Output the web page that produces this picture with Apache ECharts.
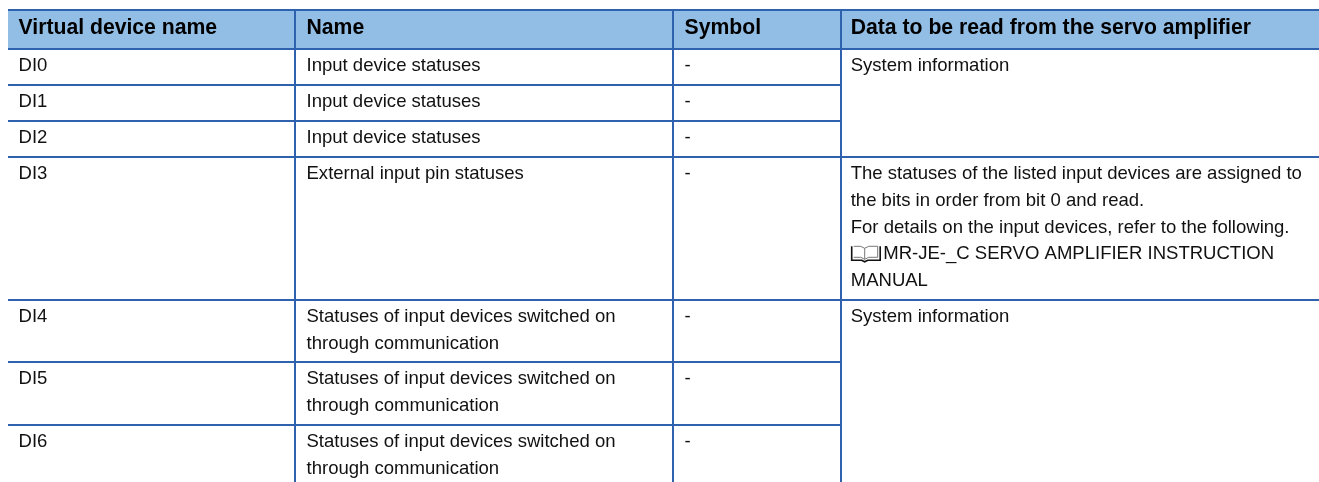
<!DOCTYPE html>
<html><head><meta charset="utf-8">
<style>html,body{margin:0;padding:0;background:#fff}#c{width:1319px;height:482px}</style>
<script src="https://cdn.jsdelivr.net/npm/echarts@6/dist/echarts.min.js"></script>
</head><body><div id="c"></div>
<script>
const columnHeaders = ['Virtual device name', 'Name', 'Symbol', 'Data to be read from the servo amplifier'];
const virtualDevices = ['DI0', 'DI1', 'DI2', 'DI3', 'DI4', 'DI5', 'DI6'];
const names = [
  ['Input device statuses'],
  ['Input device statuses'],
  ['Input device statuses'],
  ['External input pin statuses'],
  ['Statuses of input devices switched on', 'through communication'],
  ['Statuses of input devices switched on', 'through communication'],
  ['Statuses of input devices switched on', 'through communication']
];
const symbols = ['-', '-', '-', '-', '-', '-', '-'];
const readDataRows = [0, 3, 4];
const readData = [
  ['System information'],
  ['The statuses of the listed input devices are assigned to', 'the bits in order from bit 0 and read.', 'For details on the input devices, refer to the following.', 'MR-JE-_C SERVO AMPLIFIER INSTRUCTION', 'MANUAL'],
  ['System information']
];
// layout
const columnEdges = [8, 295, 673, 841, 1319];
const rowEdges = [10, 49, 85, 121, 157, 300, 362, 425, 482];
const textInset = [10.5, 11.5, 11.5, 9.7];
const LINE_H = 26.7, FIRST_LINE = 17.2, HEADER_MID = 28.5;
const INK = '#111', RULE = '#2f62ae', HEAD = '#92bde4', FONT = '"Liberation Sans", Arial, sans-serif';
const SIZE = 18.55, HEAD_SIZE = 21.2;

const cells = [];
columnHeaders.forEach((t, c) => cells.push({ c, y: HEADER_MID, t, bold: true }));
function pushLines(c, row, lines) {
  lines.forEach((t, i) => cells.push({ c, y: rowEdges[row + 1] + FIRST_LINE + i * LINE_H, t }));
}
virtualDevices.forEach((t, r) => pushLines(0, r, [t]));
names.forEach((l, r) => pushLines(1, r, l));
symbols.forEach((t, r) => pushLines(2, r, [t]));
readData.forEach((l, i) => pushLines(3, readDataRows[i], l));

const rules = [];
rowEdges.slice(0, -1).forEach((y, i) => {
  const merged = i === 2 || i === 3 || i === 6 || i === 7;
  rules.push([columnEdges[0], y, merged ? columnEdges[3] : columnEdges[4], y]);
});
columnEdges.slice(1, 4).forEach(x => rules.push([x, rowEdges[0], x, rowEdges[8]]));

const chart = echarts.init(document.getElementById('c'), null, { renderer: 'canvas' });
chart.setOption({
  animation: false,
  backgroundColor: '#fff',
  grid: { left: 0, right: 0, top: 0, bottom: 0 },
  xAxis: { type: 'value', min: 0, max: 1319, show: false },
  yAxis: { type: 'value', min: 0, max: 482, inverse: true, show: false },
  series: [
    {
      type: 'custom', silent: true, clip: false, z: 1,
      data: [[columnEdges[0], rowEdges[0], columnEdges[4], rowEdges[1]]],
      renderItem(p, api) {
        const a = api.coord([api.value(0), api.value(1)]), b = api.coord([api.value(2), api.value(3)]);
        return { type: 'rect', shape: { x: a[0], y: a[1], width: b[0] - a[0], height: b[1] - a[1] }, style: { fill: HEAD } };
      }
    },
    {
      type: 'custom', silent: true, clip: false, z: 2,
      data: rules,
      renderItem(p, api) {
        const a = api.coord([api.value(0), api.value(1)]), b = api.coord([api.value(2), api.value(3)]);
        return { type: 'line', shape: { x1: a[0], y1: a[1], x2: b[0], y2: b[1] }, style: { stroke: RULE, lineWidth: 2 } };
      }
    },
    {
      type: 'custom', silent: true, clip: false, z: 3,
      data: cells.map(d => [columnEdges[d.c] + textInset[d.c], d.y]),
      renderItem(p, api) {
        const d = cells[p.dataIndex];
        const a = api.coord([api.value(0), api.value(1)]);
        const isBook = d.t.indexOf('MR-JE') === 0;
        const txt = {
          type: 'text', x: a[0] + (isBook ? 32.5 : 0), y: a[1],
          style: { text: d.t, fill: d.bold ? '#000' : INK, fontFamily: FONT, fontSize: d.bold ? HEAD_SIZE : SIZE, fontWeight: d.bold ? 'bold' : 'normal', textAlign: 'left', textVerticalAlign: 'middle' }
        };
        if (!isBook) return txt;
        const x = a[0], y = a[1];
        return { type: 'group', children: [txt, {
          type: 'polyline', shape: { points: [[x + 1, y - 8], [x + 1, y + 6], [x + 11, y + 6], [x + 14, y + 7.5], [x + 17, y + 6], [x + 29.5, y + 6], [x + 29.5, y - 8]] },
          style: { stroke: '#111', fill: null, lineWidth: 1.6 }
        }, {
          type: 'polyline', shape: { points: [[x + 3, y - 8], [x + 10, y - 8], [x + 14, y - 6], [x + 14, y + 5], [x + 10, y + 3], [x + 3, y + 3]] },
          style: { stroke: '#777', fill: null, lineWidth: 1 }
        }, {
          type: 'polyline', shape: { points: [[x + 14, y - 6], [x + 18, y - 8], [x + 27, y - 8], [x + 27, y + 3], [x + 18, y + 3], [x + 14, y + 5]] },
          style: { stroke: '#777', fill: null, lineWidth: 1 }
        }] };
      }
    }
  ]
});
</script></body></html>
